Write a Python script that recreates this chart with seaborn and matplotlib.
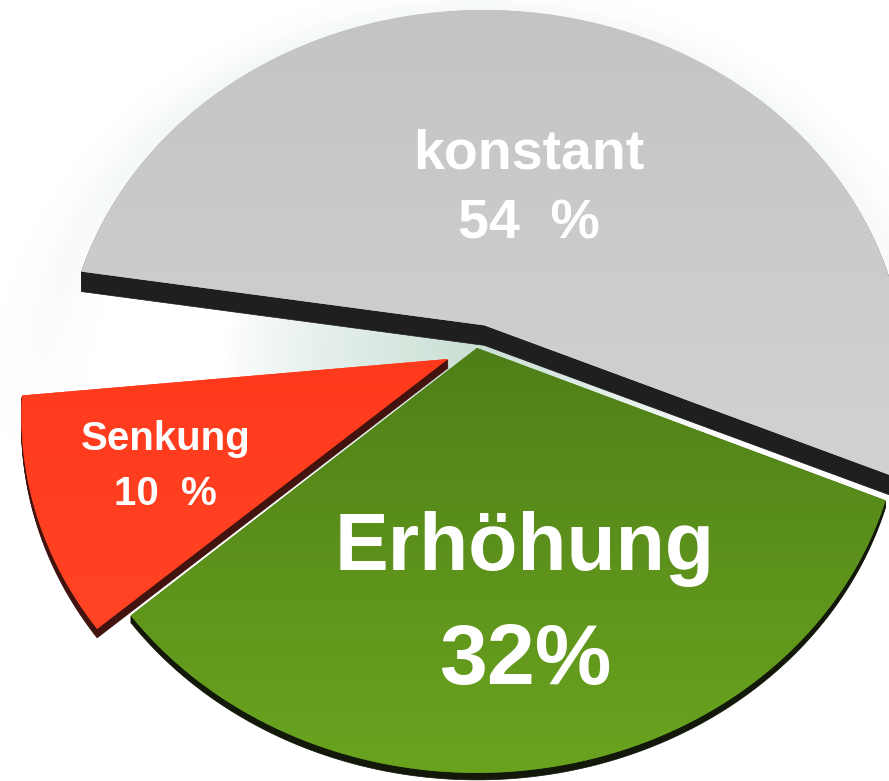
import numpy as np
import matplotlib
matplotlib.use('Agg')
import matplotlib.pyplot as plt
import seaborn as sns
from matplotlib.patches import Polygon
from matplotlib.colors import LinearSegmentedColormap, to_rgb

# slice data (the unlabeled 4 % is the empty gap between grey and red)
labels = ['konstant', '', 'Senkung', 'Erhöhung']
pct_labels = ['54  %', '', '10  %', '32%']
values = [54, 4, 10, 32]
explode = [0.065, 0.0, 0.075, 0.0]

# styles
top_colors = [('#c4c4c4', '#d2d2d2'), None, ('#ff3a1c', '#ff4424'), ('#4f7f18', '#6aa41f')]
side_colors = ['#1f1f1f', None, '#43140f', '#12180a']
side_depth = [20, 0, 9, 7]
label_radius = [0.415, 0, 0.70, 0.65]
label_size = [(40, 40), None, (29, 29), (58, 62)]
label_gap = [70, 0, 55, 113]

W, H = 889, 781
CX, CY = 477, 348       # pie centre in pixels
R, K, D = 420, 0.87, 0.14   # radius, tilt squash, perspective strength


def project(u, v):
    s = 1.0 / (1.0 + D * v)
    return np.c_[CX + R * u * s, CY - R * K * v * s]


sns.set_theme(style='white')
plt.rcParams['font.family'] = ['Liberation Sans', 'DejaVu Sans']

fig = plt.figure(figsize=(W / 100, H / 100), dpi=100)
ax = fig.add_axes([0, 0, 1, 1])

wedges, _ = ax.pie(values, explode=explode, startangle=-23.2, counterclock=True,
                   radius=1, center=(0, 0))

# soft mint glow behind the pie
gx, gy = np.meshgrid(np.arange(W) + 0.5, np.arange(H) + 0.5)
Y = (CY - gy) / (R * K)
X = (gx - CX) / R
vv = Y / (1 - D * Y)
uu = X * (1 + D * vv)
rho = np.sqrt(uu ** 2 + vv ** 2)
alpha = np.where(rho < 1, 0.9 * np.clip(1 - rho / 0.6, 0, 1) ** 0.8, 0)
alpha = alpha + 0.2 * np.exp(-((rho - 1.03) / 0.07) ** 2) * np.clip(vv + 0.3, 0, 1)
glow = np.zeros((H, W, 4))
glow[..., :3] = to_rgb('#c3dbcf')
glow[..., 3] = np.clip(alpha, 0, 1)
ax.imshow(glow, extent=(0, W, H, 0), origin='upper', aspect='auto', zorder=0)

z = 2
for i, w in enumerate(wedges):
    t = np.linspace(np.radians(w.theta1), np.radians(w.theta2), 300)
    cx0, cy0 = w.center
    u = np.r_[cx0, cx0 + w.r * np.cos(t)]
    v = np.r_[cy0, cy0 + w.r * np.sin(t)]
    w.remove()
    if top_colors[i] is None:
        continue
    pts = project(u, v)
    # extruded side
    for off in range(1, side_depth[i] + 1):
        ax.add_patch(Polygon(pts + [0, off], closed=True, facecolor=side_colors[i],
                             edgecolor=side_colors[i], lw=0.5, zorder=z))
    z += 1
    top = Polygon(pts, closed=True, facecolor=top_colors[i][0], edgecolor='none', zorder=z)
    ax.add_patch(top)
    z += 1
    cmap = LinearSegmentedColormap.from_list('g%d' % i, list(top_colors[i]))
    y0, y1 = pts[:, 1].min(), pts[:, 1].max()
    im = ax.imshow(np.linspace(0, 1, 256).reshape(-1, 1), cmap=cmap,
                   extent=(0, W, y1, y0), origin='upper', aspect='auto',
                   interpolation='bilinear', zorder=z)
    im.set_clip_path(top)
    z += 1

    # labels
    mid = np.radians((w.theta1 + w.theta2) / 2)
    lp = project(np.array([cx0 + label_radius[i] * np.cos(mid)]),
                 np.array([cy0 + label_radius[i] * np.sin(mid)]))[0]
    g = label_gap[i] / 2
    ax.text(lp[0], lp[1] - g, labels[i], color='white', ha='center', va='center',
            fontsize=label_size[i][0], fontweight='bold', zorder=20)
    ax.text(lp[0], lp[1] + g, pct_labels[i], color='white', ha='center', va='center',
            fontsize=label_size[i][1], fontweight='bold', zorder=20)

ax.set_xlim(0, W)
ax.set_ylim(H, 0)
ax.set_aspect('auto')
ax.axis('off')

fig.savefig('out.png', dpi=100, facecolor='white')
